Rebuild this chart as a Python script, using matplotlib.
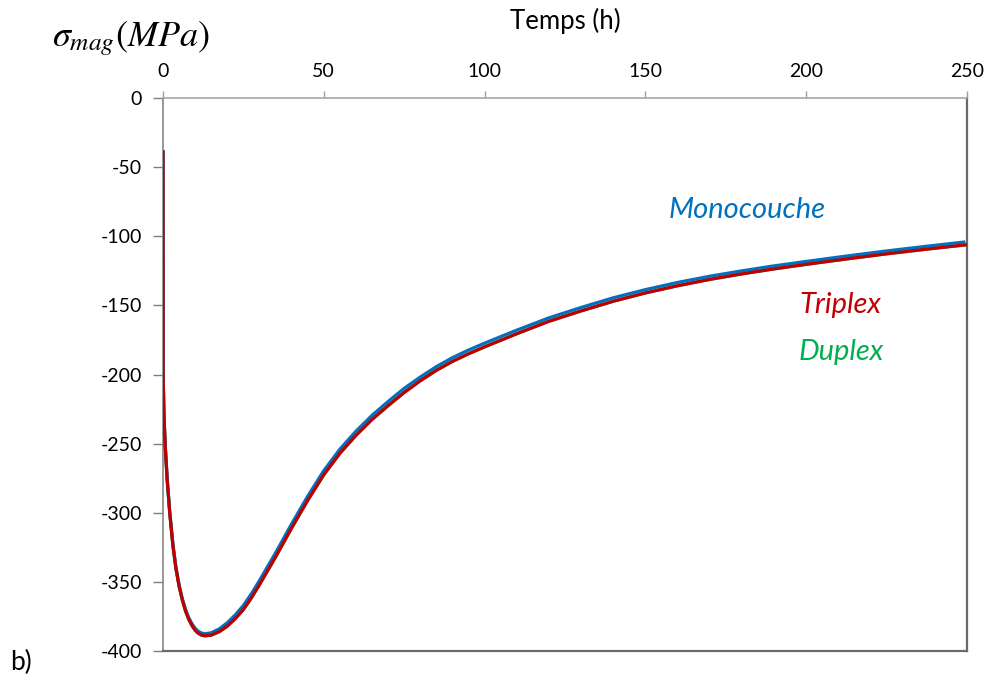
import numpy as np
import matplotlib.pyplot as plt
from matplotlib.ticker import FixedLocator, FuncFormatter

plt.rcParams['mathtext.fontset'] = 'stix'
plt.rcParams['axes.unicode_minus'] = False
plt.rcParams['font.family'] = ['Lato', 'DejaVu Sans']

# temps (h)
t_triplex = [0, 0.05, 0.3, 0.7, 1.3, 2.1, 3.1, 4, 5, 6, 7, 8, 9, 10, 11, 12, 13,
             15, 17.5, 20, 22.5, 25, 27.5, 30, 35, 40, 45, 50, 55, 60, 65, 70, 75,
             80, 85, 90, 95, 100, 110, 120, 130, 140, 150, 160, 170, 180, 190,
             200, 212.5, 225, 237.5, 250]
triplex = [-39, -200, -230, -252, -276, -300, -324, -340, -353, -363, -371, -377,
           -381.5, -385, -387.2, -388.5, -389, -388.5, -386, -382, -376.5, -370,
           -361.5, -352, -332, -311, -291, -272.5, -257, -244, -232.5, -222.5,
           -213, -204.5, -197, -190.5, -185, -180, -170.5, -161.5, -154, -147,
           -141, -135.8, -131.2, -127.2, -123.6, -120.3, -116.4, -112.7, -109.3,
           -106.1]

t_duplex = t_triplex
duplex = triplex

t_mono = [0, 0.05, 0.3, 0.7, 1.3, 2.1, 3.1, 4, 5, 6, 7, 8, 9, 10, 11, 12, 13,
          15, 17.5, 20, 22.5, 25, 27.5, 30, 35, 40, 45, 50, 55, 60, 65, 70, 75,
          80, 85, 90, 95, 100, 110, 120, 130, 140, 150, 160, 170, 180, 190,
          200, 212.5, 225, 237.5, 249]
mono = [-39, -200, -229.5, -251.5, -275.5, -299.5, -323, -339, -352, -362, -369.8,
        -375.8, -380.2, -383.6, -385.8, -387, -387.5, -386.8, -384, -379.5, -373.8,
        -367, -358.5, -349, -329, -308, -288, -269.5, -254, -241, -229.5,
        -219.5, -210, -201.8, -194.3, -187.8, -182.3, -177.3, -167.9, -159, -151.5,
        -144.5, -138.6, -133.4, -128.9, -125, -121.4, -118.2, -114.3, -110.6,
        -107.2, -104.2]

x_ticks = [0, 50, 100, 150, 200, 250]
y_ticks = [0, -50, -100, -150, -200, -250, -300, -350, -400]

BLUE = "#0070C0"
RED = "#C00000"
GREEN = "#00B050"

fig = plt.figure(figsize=(9.92, 6.84), dpi=100)
fig.patch.set_facecolor('white')
ax = fig.add_axes([0.1643, 0.0482, 0.8105, 0.8085])

ax.plot(t_duplex, duplex, color=GREEN, linewidth=2.3, zorder=3,
        solid_joinstyle='round')
ax.plot(t_mono, mono, color=BLUE, linewidth=2.3, zorder=4,
        solid_joinstyle='round')
ax.plot(t_triplex, triplex, color=RED, linewidth=2.3, zorder=5,
        solid_joinstyle='round')

ax.set_xlim(0, 250)
ax.set_ylim(-400, 0)

ax.xaxis.tick_top()
ax.xaxis.set_major_locator(FixedLocator(x_ticks))
ax.yaxis.set_major_locator(FixedLocator(y_ticks))
ax.yaxis.set_major_formatter(FuncFormatter(lambda v, p: "{:d}".format(int(v))))
ax.tick_params(axis='x', direction='out', length=5, width=1, color='#A0A0A0',
               labelsize=14, pad=8, labelcolor='#000000')
ax.tick_params(axis='y', direction='out', length=7, width=1, color='#7F7F7F',
               labelsize=14, pad=8, labelcolor='#000000')

ax.spines['top'].set_color('#A6A6A6')
ax.spines['top'].set_linewidth(1.2)
ax.spines['left'].set_color('#868686')
ax.spines['left'].set_linewidth(1.2)
for s in ['right', 'bottom']:
    ax.spines[s].set_color('#6A6A6A')
    ax.spines[s].set_linewidth(1.6)

fig.text(0.5696, 0.969, "Temps (h)", fontsize=18.5, ha='center', va='center')
fig.text(0.052, 0.943, r'$\sigma_{mag}(MPa)$', fontsize=26, ha='left', va='center')
fig.text(0.010, 0.031, "b)", fontsize=19, ha='left', va='center')

ax.text(181.5, -81, "Monocouche", color=BLUE, fontsize=21, style='italic',
        ha='center', va='center')
ax.text(210.5, -149.5, "Triplex", color=RED, fontsize=21, style='italic',
        ha='center', va='center')
ax.text(210.8, -184, "Duplex", color=GREEN, fontsize=21, style='italic',
        ha='center', va='center')

fig.savefig("out.png", dpi=100, facecolor='white')
